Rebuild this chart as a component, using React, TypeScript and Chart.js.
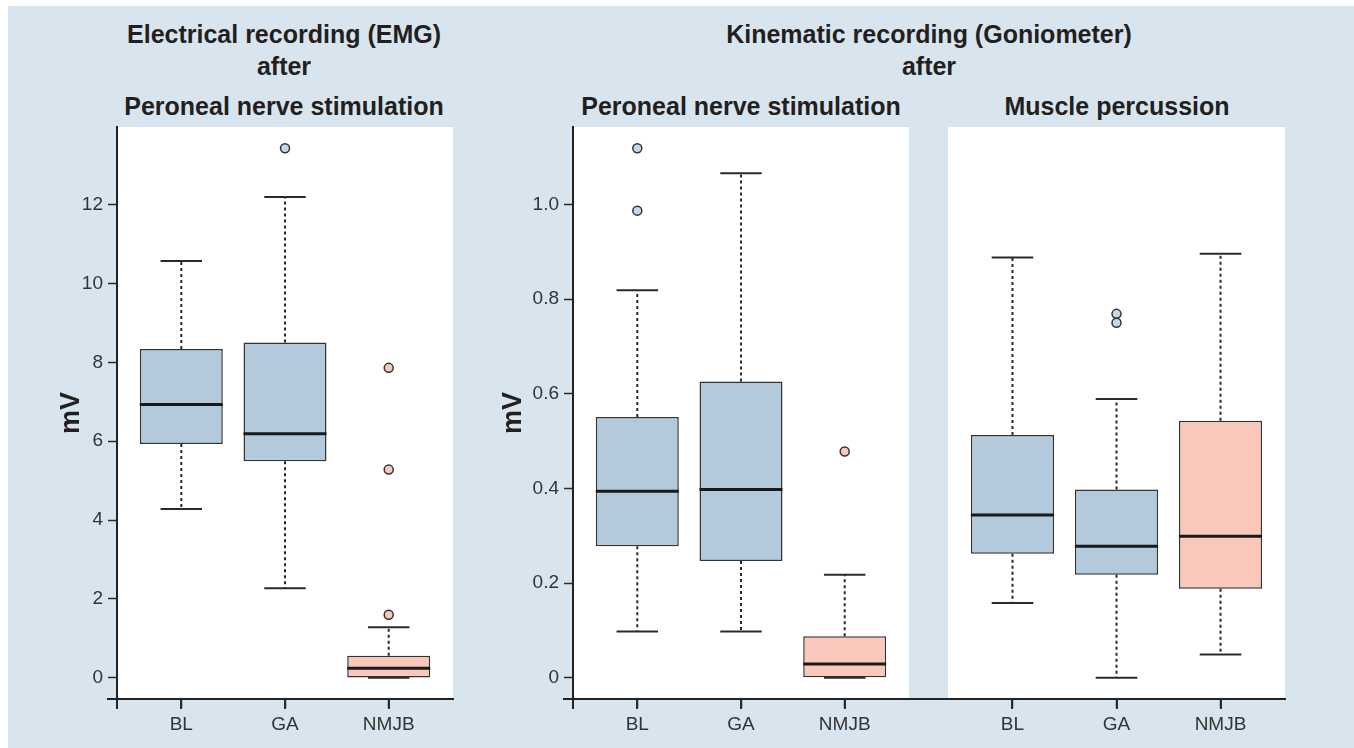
import React, { useEffect, useRef } from 'react';
import { Chart, registerables } from 'chart.js';

Chart.register(...registerables);

// ---------- data ----------
const categories = ['BL', 'GA', 'NMJB'];
const boxColors = ['#b3cadd', '#b3cadd', '#f9c8bb'];
const outlierColors = ['#c3d9e5', '#c3d9e5', '#f9c8bb'];

// Electrical recording (EMG) – peroneal nerve stimulation
const emgMin = [4.28, 2.27, 0.0];
const emgQ1 = [5.93, 5.49, 0.01];
const emgMedian = [6.93, 6.19, 0.24];
const emgQ3 = [8.34, 8.5, 0.56];
const emgMax = [10.57, 12.19, 1.28];
const emgOutliers = [[], [13.43], [7.86, 5.28, 1.6]];

// Kinematic recording – peroneal nerve stimulation
const perMin = [0.098, 0.098, 0.0];
const perQ1 = [0.278, 0.247, 0.0];
const perMedian = [0.394, 0.398, 0.029];
const perQ3 = [0.551, 0.626, 0.088];
const perMax = [0.819, 1.066, 0.218];
const perOutliers = [[1.119, 0.987], [], [0.478]];

// Kinematic recording – muscle percussion
const percMin = [0.158, 0.0, 0.049];
const percQ1 = [0.262, 0.218, 0.188];
const percMedian = [0.344, 0.278, 0.299];
const percQ3 = [0.513, 0.398, 0.543];
const percMax = [0.888, 0.589, 0.896];
const percOutliers = [[], [0.769, 0.75], []];

const emgYTicks = [0, 2, 4, 6, 8, 10, 12];
const emgYTickLabels = ['0', '2', '4', '6', '8', '10', '12'];
const kinYTicks = [0, 0.2, 0.4, 0.6, 0.8, 1.0];
const kinYTickLabels = ['0', '0.2', '0.4', '0.6', '0.8', '1.0'];

// ---------- style ----------
const BG = '#d9e5ee';
const FONT = '"Liberation Sans", Arial, Helvetica, sans-serif';
const TEXT = '#231f20';
const AXIS = '#222222';
const TICK = '#2a2a2a';

type Group = {
  min: number[]; q1: number[]; med: number[]; q3: number[]; max: number[]; out: number[][];
};

const emgGroup: Group = { min: emgMin, q1: emgQ1, med: emgMedian, q3: emgQ3, max: emgMax, out: emgOutliers };
const perGroup: Group = { min: perMin, q1: perQ1, med: perMedian, q3: perQ3, max: perMax, out: perOutliers };
const percGroup: Group = { min: percMin, q1: percQ1, med: percMedian, q3: percQ3, max: percMax, out: percOutliers };

function extent(groups: Group[]) {
  let lo = Infinity, hi = -Infinity;
  groups.forEach((g) => {
    [...g.min, ...g.q1, ...g.max, ...g.out.flat()].forEach((v) => {
      lo = Math.min(lo, v); hi = Math.max(hi, v);
    });
  });
  const pad = (hi - lo) * 0.04;
  return [lo - pad, hi + pad];
}

function buildDatasets(g: Group) {
  const half = 0.4;
  const cap = 0.2;
  const boxData: any[] = [];
  const medData: any[] = [];
  const whiskData: any[] = [];
  const capData: any[] = [];
  const outData: any[] = [];
  const outBg: string[] = [];
  categories.forEach((_, i) => {
    const x = i + 1;
    boxData.push({ x, y: [g.q1[i], g.q3[i]] });
    medData.push({ x: x - half, y: g.med[i] }, { x: x + half, y: g.med[i] }, { x: x + 0.5, y: null });
    whiskData.push(
      { x, y: g.q3[i] }, { x, y: g.max[i] }, { x: x + 0.5, y: null },
      { x, y: g.q1[i] }, { x, y: g.min[i] }, { x: x + 0.5, y: null }
    );
    capData.push(
      { x: x - cap, y: g.max[i] }, { x: x + cap, y: g.max[i] }, { x: x + 0.5, y: null },
      { x: x - cap, y: g.min[i] }, { x: x + cap, y: g.min[i] }, { x: x + 0.5, y: null }
    );
    g.out[i].forEach((v) => {
      outData.push({ x, y: v });
      outBg.push(outlierColors[i]);
    });
  });
  return [
    {
      type: 'line', data: medData, borderColor: '#1a1a1a', borderWidth: 3, pointRadius: 0,
      fill: false, tension: 0, spanGaps: false, borderCapStyle: 'butt', order: 0,
    },
    {
      type: 'scatter', data: outData, pointBackgroundColor: outBg, pointBorderColor: '#333333',
      pointBorderWidth: 1.5, pointRadius: 4.5, order: 1,
    },
    {
      type: 'line', data: capData, borderColor: '#2a2a2a', borderWidth: 2, pointRadius: 0,
      fill: false, tension: 0, spanGaps: false, borderCapStyle: 'butt', order: 2,
    },
    {
      type: 'line', data: whiskData, borderColor: '#2a2a2a', borderWidth: 2, borderDash: [3, 3],
      pointRadius: 0, fill: false, tension: 0, spanGaps: false, borderCapStyle: 'butt', order: 3,
    },
    {
      type: 'bar', data: boxData, backgroundColor: boxColors, borderColor: '#333333', borderWidth: 1.5,
      borderSkipped: false, barPercentage: 0.8, categoryPercentage: 1, order: 4,
    },
  ];
}

type PanelProps = {
  left: number; top: number; width: number; height: number;
  group: Group; yRange: number[];
  showY: boolean; yTicks: number[]; yTickLabels: string[];
  yWidth: number; titlePad: number;
  padLeft: number; padRight: number; padTop: number; xHeight: number;
  extendAxisLeftToCanvas: boolean;
};

function BoxPanel(p: PanelProps) {
  const ref = useRef<HTMLCanvasElement | null>(null);
  useEffect(() => {
    if (!ref.current) return;
    const n = categories.length;
    const xMin = 0.5 - 0.04 * n;
    const xMax = n + 0.5 + 0.04 * n;
    const chart = new Chart(ref.current, {
      type: 'bar',
      data: { datasets: buildDatasets(p.group) as any },
      options: {
        animation: false,
        responsive: false,
        devicePixelRatio: 1,
        layout: { padding: { left: p.padLeft, right: p.padRight, top: p.padTop, bottom: 0 } },
        plugins: { legend: { display: false }, tooltip: { enabled: false }, title: { display: false } },
        scales: {
          x: {
            type: 'linear', min: xMin, max: xMax, offset: false,
            afterBuildTicks: (s: any) => { s.ticks = categories.map((_, i) => ({ value: i + 1 })); },
            afterFit: (s: any) => { s.height = p.xHeight; },
            ticks: {
              callback: (_v: any, i: number) => categories[i],
              font: { family: FONT, size: 19 }, color: '#333333', padding: 5, maxRotation: 0, autoSkip: false,
            },
            grid: {
              offset: false, drawOnChartArea: false, drawTicks: true, tickLength: 9,
              tickColor: TICK, tickWidth: 1.5,
            },
            border: { display: true, color: AXIS, width: 2 },
          },
          y: {
            type: 'linear', min: p.yRange[0], max: p.yRange[1], display: p.showY,
            afterBuildTicks: (s: any) => { s.ticks = p.yTicks.map((v) => ({ value: v })); },
            afterFit: (s: any) => { s.width = p.yWidth; },
            ticks: {
              callback: (_v: any, i: number) => p.yTickLabels[i],
              font: { family: FONT, size: 19 }, color: '#333333', padding: 5, autoSkip: false,
            },
            grid: {
              offset: false, drawOnChartArea: false, drawTicks: true, tickLength: 9,
              tickColor: TICK, tickWidth: 1.5,
            },
            border: { display: true, color: AXIS, width: 2 },
            title: {
              display: true, text: 'mV', color: TEXT,
              font: { family: FONT, size: 27, weight: 'bold' }, padding: { top: p.titlePad, bottom: 0 },
            },
          },
        },
      },
      plugins: [
        {
          id: 'panelBg',
          beforeDraw(c: any) {
            const { ctx, chartArea: a } = c;
            ctx.save();
            ctx.fillStyle = '#ffffff';
            ctx.fillRect(a.left, a.top, a.right - a.left, a.bottom - a.top);
            ctx.restore();
          },
        },
        {
          id: 'axisCorner',
          afterDraw(c: any) {
            const { ctx, chartArea: a } = c;
            const xs = c.scales.x;
            const yLine = Math.round(a.bottom);
            ctx.save();
            ctx.fillStyle = AXIS;
            if (p.extendAxisLeftToCanvas) {
              ctx.fillRect(0, yLine - 1, a.left + 1, 2);
            } else {
              const xLine = Math.round(a.left);
              ctx.fillRect(xLine - 10, yLine - 1, 11, 2);
              ctx.fillRect(xLine - 1, yLine - 1, 2, 11);
            }
            // category tick marks on the x axis
            ctx.fillStyle = TICK;
            for (let i = 0; i < categories.length; i++) {
              const px = xs.getPixelForValue(i + 1);
              ctx.fillRect(Math.round(px) - 1, yLine, 2, 10);
            }
            ctx.restore();
          },
        },
      ],
    } as any);
    return () => chart.destroy();
  }, []);
  return (
    <canvas
      ref={ref}
      width={p.width}
      height={p.height}
      style={{ position: 'absolute', left: p.left, top: p.top, width: p.width, height: p.height }}
    />
  );
}

function Title({ text, cx, top }: { text: string; cx: number; top: number }) {
  return (
    <div
      style={{
        position: 'absolute', left: cx - 300, width: 600, top, textAlign: 'center',
        fontFamily: FONT, fontWeight: 'bold', fontSize: 25, lineHeight: '30px', color: TEXT,
        whiteSpace: 'nowrap',
      }}
    >
      {text}
    </div>
  );
}

export default function App() {
  const emgRange = extent([emgGroup]);
  const kinRange = extent([perGroup, percGroup]);
  return (
    <div style={{ position: 'fixed', left: 0, top: 0, width: 1354, height: 748, background: '#ffffff', overflow: 'hidden' }}>
      <div style={{ position: 'absolute', left: 8, top: 6, width: 1346, height: 742, background: BG }} />
      <Title text="Electrical recording (EMG)" cx={284} top={19} />
      <Title text="after" cx={284} top={51} />
      <Title text="Peroneal nerve stimulation" cx={284} top={91} />
      <Title text="Kinematic recording (Goniometer)" cx={929} top={19} />
      <Title text="after" cx={929} top={51} />
      <Title text="Peroneal nerve stimulation" cx={741} top={91} />
      <Title text="Muscle percussion" cx={1117} top={91} />
      <BoxPanel
        left={8} top={110} width={492} height={638}
        group={emgGroup} yRange={emgRange} showY={true}
        yTicks={emgYTicks} yTickLabels={emgYTickLabels}
        yWidth={109} titlePad={47} padLeft={0} padRight={47} padTop={17} xHeight={49}
        extendAxisLeftToCanvas={false}
      />
      <BoxPanel
        left={470} top={110} width={479} height={638}
        group={perGroup} yRange={kinRange} showY={true}
        yTicks={kinYTicks} yTickLabels={kinYTickLabels}
        yWidth={103} titlePad={27} padLeft={0} padRight={40} padTop={17} xHeight={49}
        extendAxisLeftToCanvas={false}
      />
      <BoxPanel
        left={909} top={110} width={445} height={638}
        group={percGroup} yRange={kinRange} showY={false}
        yTicks={kinYTicks} yTickLabels={kinYTickLabels}
        yWidth={0} titlePad={0} padLeft={39} padRight={69} padTop={17} xHeight={49}
        extendAxisLeftToCanvas={true}
      />
    </div>
  );
}
